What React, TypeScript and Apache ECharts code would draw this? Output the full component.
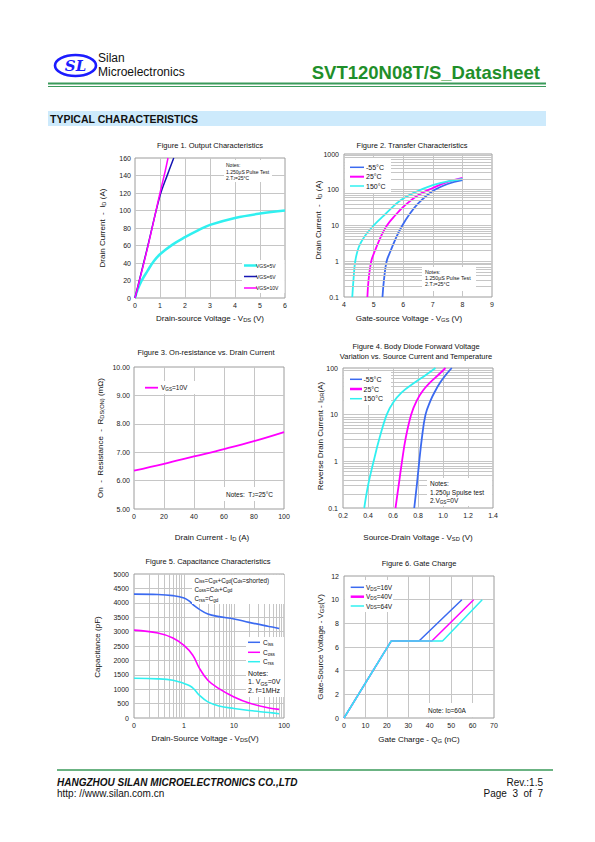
import React, { useEffect, useRef } from 'react';
import * as echarts from 'echarts';

const FONT = '"Liberation Sans", Arial, Helvetica, sans-serif';
const CYAN = '#30f0f0';
const MAGENTA = '#ff00ff';
const BLUE = '#3b6af0';
const NAVY = '#1616b4';
const GRID = '#c6c6c6';
const BORDER = '#9c9c9c';
const GREEN = '#3a9a5a';

// ---------- Figure 1: Output characteristics ----------
const fig1Vds5 = [0, 0.1, 0.25, 0.5, 0.75, 1, 1.5, 2, 2.5, 3, 4, 5, 6];
const fig1Id5 = [0, 9, 19, 31, 42, 50, 61, 69.5, 77, 83.5, 91.5, 96.5, 100];
const fig1Vds6 = [0, 0.5, 1, 1.3, 1.55];
const fig1Id6 = [0, 58, 117, 141, 160];
const fig1Vds10 = [0, 0.5, 1, 1.2, 1.32];
const fig1Id10 = [0, 57, 120, 144, 160];

// ---------- Figure 2: Transfer characteristics ----------
const fig2VgsM55 = [5.3, 5.35, 5.44, 5.58, 5.78, 5.97, 6.2, 6.5, 7, 7.5, 8];
const fig2IdM55 = [0.1, 0.3, 1, 2, 5, 10, 20, 41, 92, 145, 185];
const fig2Vgs25 = [4.79, 4.83, 4.92, 5.05, 5.25, 5.45, 5.75, 6, 6.5, 7, 7.5, 8];
const fig2Id25 = [0.1, 0.3, 1, 2, 5, 10, 20, 33, 70, 112, 165, 215];
const fig2Vgs150 = [4.28, 4.32, 4.38, 4.5, 4.7, 5, 5.4, 5.9, 6.4, 7, 7.5, 8];
const fig2Id150 = [0.1, 0.3, 1, 2.5, 5, 10, 21, 50, 85, 135, 172, 200];

// ---------- Figure 3: On-resistance vs drain current ----------
const fig3Id = [0, 20, 40, 60, 80, 100];
const fig3Rds = [6.35, 6.59, 6.85, 7.11, 7.39, 7.71];

// ---------- Figure 4: Body diode forward voltage ----------
const fig4Vsd150 = [0.37, 0.4, 0.445, 0.49, 0.55, 0.6, 0.67, 0.78, 0.86, 0.94];
const fig4Is150 = [0.1, 0.3, 1, 3, 10, 18, 30, 50, 70, 100];
const fig4Vsd25 = [0.62, 0.645, 0.672, 0.7, 0.745, 0.79, 0.84, 0.9, 0.96, 1.02];
const fig4Is25 = [0.1, 0.3, 1, 3, 10, 20, 33, 50, 70, 100];
const fig4VsdM55 = [0.77, 0.79, 0.81, 0.83, 0.86, 0.9, 0.94, 0.98, 1.02, 1.07];
const fig4IsM55 = [0.1, 0.3, 1, 3, 10, 20, 33, 50, 70, 100];

// ---------- Figure 5: Capacitance ----------
const fig5VdsIss = [0.1, 0.3, 0.6, 1, 1.3, 1.6, 2, 3, 5, 10, 20, 50, 80];
const fig5Ciss = [4300, 4290, 4250, 4170, 4050, 3900, 3780, 3610, 3520, 3440, 3320, 3180, 3110];
const fig5VdsOss = [0.1, 0.3, 0.6, 1, 1.5, 2, 3, 5, 10, 20, 50, 80];
const fig5Coss = [3050, 2950, 2780, 2520, 2180, 1750, 1310, 1020, 730, 520, 350, 300];
const fig5VdsRss = [0.1, 0.3, 0.6, 1, 1.3, 1.6, 2, 3, 5, 10, 20, 50, 80];
const fig5Crss = [1380, 1360, 1310, 1200, 1120, 1000, 800, 560, 420, 330, 260, 190, 150];

// ---------- Figure 6: Gate charge ----------
const fig6Q16 = [0, 22, 35, 55];
const fig6V16 = [0, 6.5, 6.5, 10];
const fig6Q40 = [0, 22, 41, 60.5];
const fig6V40 = [0, 6.5, 6.5, 10];
const fig6Q64 = [0, 22, 46, 64.5];
const fig6V64 = [0, 6.5, 6.5, 10];

// log grid helper values (tick positions)
const logMinorMult = [2, 3, 4, 5, 6, 7, 8, 9];
const decades = (from: number, to: number) => {
  const out: number[] = [];
  for (let d = from; d < to; d *= 10) logMinorMult.forEach((m) => out.push(+(m * d).toPrecision(3)));
  return out;
};

const pairs = (xs: number[], ys: number[]) => xs.map((x, i) => [x, ys[i]]);

function line(xs: number[], ys: number[], color: string, width: number, idx: number, smooth: any = 0.4) {
  return {
    type: 'line',
    xAxisIndex: idx,
    yAxisIndex: idx,
    data: pairs(xs, ys),
    symbol: 'none',
    smooth,
    lineStyle: { color, width },
    silent: true,
    z: 3,
  };
}

function minorGrid(idx: number, axis: 'x' | 'y', values: number[], anchor: number[], z: number) {
  return {
    type: 'line',
    xAxisIndex: idx,
    yAxisIndex: idx,
    data: [anchor],
    symbol: 'none',
    lineStyle: { width: 0 },
    silent: true,
    z: 1,
    markLine: {
      silent: true,
      z,
      symbol: ['none', 'none'],
      label: { show: false },
      emphasis: { disabled: true },
      lineStyle: { color: GRID, type: 'solid', width: 1 },
      data: values.map((v) => (axis === 'y' ? { yAxis: v } : { xAxis: v })),
    },
  };
}

const tickLabel = (extra: any = {}) => ({
  fontSize: 7,
  color: '#222',
  fontFamily: FONT,
  formatter: (v: number) => String(v),
  ...extra,
});

function valAxis(gridIndex: number, min: number, max: number, interval: number, labelExtra: any = {}) {
  return {
    type: 'value',
    gridIndex,
    min,
    max,
    interval,
    axisLine: { show: false },
    axisTick: { show: false },
    splitLine: { show: true, showMinLine: false, showMaxLine: false, lineStyle: { color: GRID, width: 1 } },
    axisLabel: tickLabel(labelExtra),
  };
}

function logAxis(gridIndex: number, min: number, max: number, labelExtra: any = {}) {
  return {
    type: 'log',
    logBase: 10,
    gridIndex,
    min,
    max,
    axisLine: { show: false },
    axisTick: { show: false },
    splitLine: { show: true, showMinLine: false, showMaxLine: false, lineStyle: { color: GRID, width: 1 } },
    axisLabel: tickLabel({ formatter: (v: number) => String(+v.toPrecision(3)), ...labelExtra }),
  };
}

function grid(left: number, top: number, width: number, height: number) {
  return { left, top, width, height, show: true, borderColor: BORDER, borderWidth: 1, backgroundColor: '#fff', containLabel: false };
}

// graphic helpers
function T(x: number, y: number, text: string, o: any = {}) {
  const fs = o.fs || 7;
  return {
    type: 'text',
    x,
    y,
    z: 100,
    rotation: o.rot || 0,
    style: {
      text,
      fontSize: fs,
      fontFamily: o.ff || FONT,
      fontWeight: o.fw || 'normal',
      fontStyle: o.fst || 'normal',
      fill: o.fill || '#111',
      align: o.align || 'left',
      verticalAlign: 'middle',
      lineHeight: fs * 1.3,
      rich: {
        s: { fontSize: fs * 0.72, lineHeight: fs * 0.72, verticalAlign: 'bottom', fontFamily: o.ff || FONT, fill: o.fill || '#111' },
      },
    },
  };
}
function R(x: number, y: number, w: number, h: number, fill = '#fff', z = 90) {
  return { type: 'rect', z, shape: { x, y, width: w, height: h }, style: { fill } };
}
function L(x1: number, y1: number, x2: number, y2: number, stroke: string, lw: number) {
  return { type: 'line', z: 100, shape: { x1, y1, x2, y2 }, style: { stroke, lineWidth: lw } };
}

function buildOption() {
  const graphic: any[] = [
    // header
    { type: 'ellipse', z: 100, shape: { cx: 75.5, cy: 65.5, rx: 20.5, ry: 10.5 }, style: { fill: 'none', stroke: '#1c1cff', lineWidth: 2.6 } },
    T(75.5, 66, 'SL', { fs: 15, fw: 'bold', fst: 'italic', ff: '"DejaVu Serif", serif', fill: '#1c1cff', align: 'center' }),
    T(98, 58, 'Silan', { fs: 12 }),
    T(98, 71.5, 'Microelectronics', { fs: 12 }),
    T(540, 72, 'SVT120N08T/S_Datasheet', { fs: 18.5, fw: 'bold', fill: '#1f8f2a', align: 'right' }),
    L(48, 83.5, 546, 83.5, GREEN, 2),
    L(48, 86.5, 546, 86.5, GREEN, 1),
    R(48, 111, 498, 15, '#cdeafc', 5),
    T(50, 118.5, 'TYPICAL CHARACTERISTICS', { fs: 10.5, fw: 'bold' }),

    // figure titles
    T(210, 145, 'Figure 1. Output Characteristics', { fs: 7.5, align: 'center' }),
    T(412, 145, 'Figure 2. Transfer Characteristics', { fs: 7.5, align: 'center' }),
    T(206, 352.5, 'Figure 3. On-resistance vs. Drain Current', { fs: 7.5, align: 'center' }),
    T(416, 346.5, 'Figure 4. Body Diode Forward Voltage', { fs: 7.5, align: 'center' }),
    T(416, 356.5, 'Variation vs. Source Current and Temperature', { fs: 7.5, align: 'center' }),
    T(208, 561.5, 'Figure 5. Capacitance Characteristics', { fs: 7.5, align: 'center' }),
    T(419, 563, 'Figure 6. Gate Charge', { fs: 7.5, align: 'center' }),

    // axis names
    T(210, 318, 'Drain-source Voltage - V{s|DS} (V)', { fs: 8, align: 'center' }),
    T(102, 228, 'Drain Current  -  I{s|D} (A)', { fs: 8, align: 'center', rot: Math.PI / 2 }),
    T(409, 318, 'Gate-source Voltage - V{s|GS} (V)', { fs: 8, align: 'center' }),
    T(318, 220, 'Drain Current  -  I{s|D} (A)', { fs: 8, align: 'center', rot: Math.PI / 2 }),
    T(212, 537, 'Drain Current - I{s|D} (A)', { fs: 8, align: 'center' }),
    T(100, 438, 'On  -  Resistance  -  R{s|DS(ON)} (mΩ)', { fs: 8, align: 'center', rot: Math.PI / 2 }),
    T(418, 537, 'Source-Drain Voltage - V{s|SD} (V)', { fs: 8, align: 'center' }),
    T(320, 436, 'Reverse Drain Current - I{s|DR}(A)', { fs: 8, align: 'center', rot: Math.PI / 2 }),
    T(205, 738, 'Drain-Source Voltage - V{s|DS}(V)', { fs: 8, align: 'center' }),
    T(97, 647, 'Capacitance (pF)', { fs: 8, align: 'center', rot: Math.PI / 2 }),
    T(419, 739, 'Gate Charge - Q{s|G} (nC)', { fs: 8, align: 'center' }),
    T(320, 647, 'Gate-Source Voltage - V{s|GS}(V)', { fs: 8, align: 'center', rot: Math.PI / 2 }),

    // fig 1 legend + notes
    R(224, 160, 48, 22),
    T(226, 165, 'Notes:', { fs: 5 }),
    T(226, 171.5, '1.250μS Pulse Test', { fs: 5 }),
    T(226, 177.5, '2.T{s|J}=25°C', { fs: 5 }),
    R(242, 260, 42.5, 33),
    L(244, 265.5, 257, 265.5, CYAN, 2.5),
    L(244, 276.5, 257, 276.5, NAVY, 1.5),
    L(244, 288, 257, 288, MAGENTA, 1.5),
    T(256, 265.5, 'VGS=5V', { fs: 5 }),
    T(256, 276.5, 'VGS=6V', { fs: 5 }),
    T(256, 288, 'VGS=10V', { fs: 5 }),

    // fig 2 legend + notes
    R(345, 158, 46, 35),
    L(350, 167.3, 364, 167.3, BLUE, 1.5),
    L(350, 176.7, 364, 176.7, MAGENTA, 2),
    L(350, 186, 364, 186, CYAN, 1.5),
    T(366, 167.3, '-55°C', { fs: 7 }),
    T(366, 176.7, '25°C', { fs: 7 }),
    T(366, 186, '150°C', { fs: 7 }),
    R(422, 267, 54, 24),
    T(425, 271.5, 'Notes:', { fs: 5.3 }),
    T(425, 277.8, '1.250μS Pulse Test', { fs: 5.3 }),
    T(425, 284, '2.T{s|J}=25°C', { fs: 5.3 }),

    // fig 3 legend + notes
    R(142, 381, 56, 13),
    L(145, 387.7, 158, 387.7, MAGENTA, 1.8),
    T(161, 387.7, 'V{s|GS}=10V', { fs: 6.5 }),
    R(224, 487, 50, 14),
    T(226, 494, 'Notes:  T{s|J}=25°C', { fs: 6.5 }),

    // fig 4 legend + notes
    R(344, 371, 47, 34),
    L(350, 379.3, 362, 379.3, BLUE, 1.5),
    L(350, 389, 362, 389, MAGENTA, 2.5),
    L(350, 398.7, 362, 398.7, CYAN, 1.5),
    T(363.5, 379.3, '-55°C', { fs: 7 }),
    T(363.5, 389, '25°C', { fs: 7 }),
    T(363.5, 398.7, '150°C', { fs: 7 }),
    R(427, 478, 65, 28),
    T(430, 483.7, 'Notes:', { fs: 6.5 }),
    T(430, 492, '1.250μ Spulse test', { fs: 6.5 }),
    T(430, 500.3, '2.V{s|GS}=0V', { fs: 6.5 }),

    // fig 5 texts
    R(192, 575, 92, 29),
    T(194.5, 580, 'C{s|iss}=C{s|gs}+C{s|gd}(C{s|ds}=shorted)', { fs: 6.3 }),
    T(194.5, 589.3, 'C{s|oss}=C{s|ds}+C{s|gd}', { fs: 6.3 }),
    T(194.5, 598.5, 'C{s|rss}=C{s|gd}', { fs: 6.3 }),
    R(246, 637, 38, 60),
    L(248, 642.3, 260, 642.3, BLUE, 1.5),
    L(248, 652.3, 260, 652.3, MAGENTA, 1.5),
    L(248, 661.7, 260, 661.7, CYAN, 1.5),
    T(263, 642.3, 'C{s|iss}', { fs: 6.5 }),
    T(263, 652.3, 'C{s|oss}', { fs: 6.5 }),
    T(263, 661.7, 'C{s|rss}', { fs: 6.5 }),
    T(248, 673, 'Notes:', { fs: 7 }),
    T(248, 681.5, '1. V{s|GS}=0V', { fs: 7 }),
    T(248, 690, '2. f=1MHz', { fs: 7 }),

    // fig 6 legend + note
    R(345, 580, 48, 32),
    L(350.7, 587.3, 364, 587.3, BLUE, 1.5),
    L(350.7, 596.7, 364, 596.7, MAGENTA, 2.5),
    L(350.7, 606, 364, 606, CYAN, 1.5),
    T(366, 587.3, 'V{s|DS}=16V', { fs: 6.5 }),
    T(366, 596.7, 'V{s|DS}=40V', { fs: 6.5 }),
    T(366, 606, 'V{s|DS}=64V', { fs: 6.5 }),
    R(425, 703, 67, 14),
    T(428, 710, 'Note: I{s|D}=60A', { fs: 6.5 }),

    // footer
    L(57, 770, 553, 770, GREEN, 1.5),
    T(57, 782, 'HANGZHOU SILAN MICROELECTRONICS CO.,LTD', { fs: 10, fw: 'bold', fst: 'italic' }),
    T(57, 793.5, 'http: //www.silan.com.cn', { fs: 10 }),
    T(543, 782, 'Rev.:1.5', { fs: 10, align: 'right' }),
    T(543, 793.5, 'Page  3  of  7', { fs: 10, align: 'right' }),
  ];

  return {
    animation: false,
    backgroundColor: '#fff',
    textStyle: { fontFamily: FONT },
    grid: [
      grid(135, 158, 150, 140),
      grid(344, 154, 148, 143),
      grid(134, 367, 150, 142),
      grid(343, 368, 150, 140),
      grid(134, 574, 150, 144),
      grid(344, 576, 150, 142),
    ],
    xAxis: [
      valAxis(0, 0, 6, 1, { margin: 4 }),
      valAxis(1, 4, 9, 1, { margin: 4 }),
      valAxis(2, 0, 100, 20, { margin: 4 }),
      valAxis(3, 0.2, 1.4, 0.2, { margin: 4, formatter: (v: number) => v.toFixed(1) }),
      logAxis(4, 0.1, 100, { margin: 4, formatter: (v: number) => (v < 0.5 ? '0' : String(Math.round(v))) }),
      valAxis(5, 0, 70, 10, { margin: 4 }),
    ],
    yAxis: [
      valAxis(0, 0, 160, 20, { margin: 4 }),
      logAxis(1, 0.1, 1000, { margin: 5 }),
      valAxis(2, 5, 10, 1, { margin: 4, formatter: (v: number) => v.toFixed(2) }),
      logAxis(3, 0.1, 100, { margin: 5 }),
      valAxis(4, 0, 5000, 500, { margin: 5 }),
      valAxis(5, 0, 12, 2, { margin: 5 }),
    ],
    series: [
      // figure 1
      line(fig1Vds5, fig1Id5, CYAN, 2.5, 0),
      line(fig1Vds6, fig1Id6, NAVY, 1.5, 0),
      line(fig1Vds10, fig1Id10, MAGENTA, 1.5, 0),
      // figure 2
      minorGrid(1, 'y', decades(0.1, 1000), [5, 1], 5),
      line(fig2VgsM55, fig2IdM55, BLUE, 1.8, 1),
      line(fig2Vgs25, fig2Id25, MAGENTA, 1.8, 1),
      line(fig2Vgs150, fig2Id150, CYAN, 1.8, 1),
      // figure 3
      line(fig3Id, fig3Rds, MAGENTA, 1.8, 2),
      // figure 4
      minorGrid(3, 'y', decades(0.1, 100), [0.6, 1], 1),
      line(fig4VsdM55, fig4IsM55, BLUE, 1.8, 3),
      line(fig4Vsd25, fig4Is25, MAGENTA, 1.8, 3),
      line(fig4Vsd150, fig4Is150, CYAN, 1.8, 3),
      // figure 5
      minorGrid(4, 'x', decades(0.1, 100), [1, 1000], 1),
      line(fig5VdsIss, fig5Ciss, BLUE, 1.6, 4),
      line(fig5VdsOss, fig5Coss, MAGENTA, 1.6, 4),
      line(fig5VdsRss, fig5Crss, CYAN, 1.6, 4),
      // figure 6
      line(fig6Q16, fig6V16, BLUE, 1.5, 5, false),
      line(fig6Q40, fig6V40, MAGENTA, 1.5, 5, false),
      line(fig6Q64, fig6V64, CYAN, 1.5, 5, false),
    ],
    graphic: { elements: graphic },
  };
}

export default function App() {
  const ref = useRef<HTMLDivElement>(null);
  useEffect(() => {
    if (!ref.current) return;
    const chart = echarts.init(ref.current, null, { renderer: 'svg', width: 595, height: 842 });
    chart.setOption(buildOption() as any);
    return () => chart.dispose();
  }, []);
  return (
    <div
      ref={ref}
      style={{ position: 'absolute', left: 0, top: 0, width: 595, height: 842, background: '#fff' }}
    />
  );
}
